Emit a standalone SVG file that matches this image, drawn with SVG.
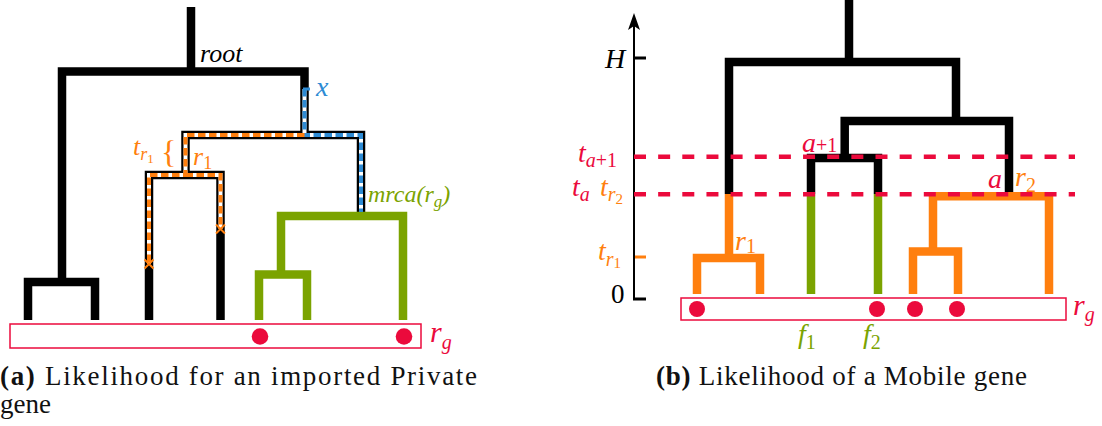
<svg xmlns="http://www.w3.org/2000/svg" width="1102" height="426" viewBox="0 0 1102 426">
<style>
.tk{fill:none;stroke:#000;stroke-width:8.5;stroke-linejoin:miter}
.tg{fill:none;stroke:#7BA300;stroke-width:8.5;stroke-linejoin:miter}
.to{fill:none;stroke:#FF7F0E;stroke-width:8.5;stroke-linejoin:miter}
.uw{fill:none;stroke:#fff;stroke-width:4}
.do{fill:none;stroke:#FF7F0E;stroke-width:4;stroke-dasharray:7.5 3.5}
.db{fill:none;stroke:#2E8BD4;stroke-width:4;stroke-dasharray:7.5 3.5}
.dr{fill:none;stroke:#EB0A3C;stroke-width:4.5;stroke-dasharray:12 12.15}
.box{fill:#fff;stroke:#EB0A3C;stroke-width:1.5}
.dot{fill:#EB0A3C}
</style>
<rect width="1102" height="426" fill="#fff"/>
<g id="panel-a">
  <g id="connectors-a">
    <path class="tk" d="M191,7 V71.5"/>
    <path class="tk" d="M62,282 V71.5 H304.5 V135"/>
    <path class="tk" d="M28,320 V282 H95 V320"/>
    <path class="tk" d="M185.5,175 V135 H361 V216"/>
    <path class="tk" d="M149,320 V175 H220.5 V320"/>
    <path class="tg" d="M281,274.5 V216 H403 V320"/>
    <path class="tg" d="M259,320 V274.5 H307 V320"/>
    <path class="uw" d="M304.5,89 V135 H361 V212"/>
    <path class="uw" d="M304.5,135 H185.5 V175 H149 V264 M185.5,175 H220.5 V229"/>
    <path class="db" d="M304.5,89 V135 H361 V212"/>
    <path d="M303,89 H310" stroke="#2E8BD4" stroke-width="3" fill="none"/>
    <path class="do" d="M304.5,135 H185.5 V175 H149 V264"/>
    <path class="do" d="M185.5,175 H220.5 V229"/>
    <path d="M144.5,259.5 L153.5,268.5 M153.5,259.5 L144.5,268.5 M216,224.5 L225,233.5 M225,224.5 L216,233.5" fill="none" stroke="#FF7F0E" stroke-width="2"/>
  </g>
  <g id="root-a"><text x="200" y="62" font-size="26" font-family="Liberation Serif, DejaVu Serif, serif" style="font-family:'Liberation Serif',serif" font-style="italic" fill="#000">root</text></g>
  <g id="x-a"><text x="316" y="96" font-size="28" font-family="Liberation Serif, DejaVu Serif, serif" style="font-family:'Liberation Serif',serif" font-style="italic" fill="#2E8BD4">x</text></g>
  <g id="tr1-a"><text x="133" y="155" font-size="26" font-family="Liberation Serif, DejaVu Serif, serif" style="font-family:'Liberation Serif',serif" font-style="italic" fill="#FF7F0E">t<tspan font-size="18" dy="5">r</tspan><tspan font-style="normal" font-size="13" dy="3">1</tspan></text>
    <text x="161" y="163" font-size="32" font-family="Liberation Serif, DejaVu Serif, serif" style="font-family:'Liberation Serif',serif" fill="#FF7F0E">{</text></g>
  <g id="r1-a"><text x="193" y="165" font-size="26" font-family="Liberation Serif, DejaVu Serif, serif" style="font-family:'Liberation Serif',serif" font-style="italic" fill="#FF7F0E">r<tspan font-style="normal" font-size="18" dy="4">1</tspan></text></g>
  <g id="mrca-a"><text x="368" y="202" font-size="24" font-family="Liberation Serif, DejaVu Serif, serif" style="font-family:'Liberation Serif',serif" font-style="italic" fill="#7BA300">mrca(r<tspan font-size="17" dy="5">g</tspan><tspan dy="-5">)</tspan></text></g>
  <g id="sample-a">
    <rect class="box" x="10" y="324" width="411" height="24"/>
    <circle class="dot" cx="260" cy="336.5" r="8.3"/>
    <circle class="dot" cx="404" cy="336.5" r="8.3"/>
    <text x="430" y="342" font-size="30" font-family="Liberation Serif, DejaVu Serif, serif" style="font-family:'Liberation Serif',serif" font-style="italic" fill="#EB0A3C">r<tspan font-size="20" dy="7">g</tspan></text>
  </g>
  <g id="caption-a">
    <text x="0" y="385" font-size="27" font-family="Liberation Serif, DejaVu Serif, serif" style="font-family:'Liberation Serif',serif" fill="#111" textLength="477" lengthAdjust="spacing"><tspan font-weight="bold">(a)</tspan> Likelihood for an imported Private</text>
    <text x="0" y="413" font-size="27" font-family="Liberation Serif, DejaVu Serif, serif" style="font-family:'Liberation Serif',serif" fill="#111">gene</text>
  </g>
</g>

<g id="panel-b">
  <g id="axis-b">
    <path d="M634,299 V24" stroke="#000" stroke-width="2" fill="none"/>
    <path d="M634,13 L640,30 L634,26 L628,30 Z" fill="#000"/>
    <path d="M633,58 H646 M633,299 H646" stroke="#000" stroke-width="3" fill="none"/>
    <path d="M635,257 H646" stroke="#FF7F0E" stroke-width="3" fill="none"/>
    <text x="605" y="67.5" font-size="28" font-family="Liberation Serif, DejaVu Serif, serif" style="font-family:'Liberation Serif',serif" font-style="italic" fill="#000">H</text>
    <text x="611" y="303" font-size="27" font-family="Liberation Serif, DejaVu Serif, serif" style="font-family:'Liberation Serif',serif" fill="#000">0</text>
    <text x="598" y="260" font-size="28" font-family="Liberation Serif, DejaVu Serif, serif" style="font-family:'Liberation Serif',serif" font-style="italic" fill="#FF7F0E">t<tspan font-size="20" dy="6">r</tspan><tspan font-style="normal" font-size="15" dy="2">1</tspan></text>
    <text x="578" y="162" font-size="28" font-family="Liberation Serif, DejaVu Serif, serif" style="font-family:'Liberation Serif',serif" font-style="italic" fill="#EB0A3C">t<tspan font-size="20" dy="5">a</tspan><tspan font-style="normal" font-size="20">+1</tspan></text>
    <text x="572" y="196" font-size="28" font-family="Liberation Serif, DejaVu Serif, serif" style="font-family:'Liberation Serif',serif" font-style="italic" fill="#EB0A3C">t<tspan font-size="20" dy="5">a</tspan></text>
    <text x="600" y="196" font-size="28" font-family="Liberation Serif, DejaVu Serif, serif" style="font-family:'Liberation Serif',serif" font-style="italic" fill="#FF7F0E">t<tspan font-size="20" dy="5">r</tspan><tspan font-style="normal" font-size="15" dy="3">2</tspan></text>
  </g>
  <g id="connectors-b">
    <path class="tk" d="M849,0 V62"/>
    <path class="tk" d="M729,194 V62 H956 V121"/>
    <path class="tk" d="M844.7,158 V121 H1009 V194"/>
    <path class="tk" d="M811,194 V158 H878 V194"/>
    <path class="tg" d="M811,194 V294 M878,194 V294"/>
    <path class="to" d="M729,194 V258"/>
    <path class="to" d="M697,294 V258 H760 V294"/>
    <path class="to" d="M933,251.5 V196.3 H1049 V294"/>
    <path class="to" d="M913,294 V251.5 H958 V294"/>
    <path class="dr" d="M634,156.7 H1075"/>
    <path class="dr" d="M634,194.3 H1075"/>
  </g>
  <g id="a1-b"><text x="802" y="152" font-size="28" font-family="Liberation Serif, DejaVu Serif, serif" style="font-family:'Liberation Serif',serif" font-style="italic" fill="#EB0A3C">a<tspan font-style="normal" font-size="20">+1</tspan></text></g>
  <g id="a-b"><text x="988" y="188" font-size="28" font-family="Liberation Serif, DejaVu Serif, serif" style="font-family:'Liberation Serif',serif" font-style="italic" fill="#EB0A3C">a</text></g>
  <g id="r2-b"><text x="1015" y="186" font-size="28" font-family="Liberation Serif, DejaVu Serif, serif" style="font-family:'Liberation Serif',serif" font-style="italic" fill="#FF7F0E">r<tspan font-style="normal" font-size="20" dy="6">2</tspan></text></g>
  <g id="r1-b"><text x="735" y="250" font-size="28" font-family="Liberation Serif, DejaVu Serif, serif" style="font-family:'Liberation Serif',serif" font-style="italic" fill="#FF7F0E">r<tspan font-style="normal" font-size="20" dy="3">1</tspan></text></g>
  <g id="sample-b">
    <rect class="box" x="681" y="298" width="385" height="22"/>
    <circle class="dot" cx="697" cy="309" r="8"/>
    <circle class="dot" cx="877" cy="309" r="8"/>
    <circle class="dot" cx="915" cy="309" r="8"/>
    <circle class="dot" cx="957" cy="309" r="8"/>
    <text x="1073" y="315" font-size="30" font-family="Liberation Serif, DejaVu Serif, serif" style="font-family:'Liberation Serif',serif" font-style="italic" fill="#EB0A3C">r<tspan font-size="20" dy="6">g</tspan></text>
  </g>
  <g id="f1-b"><text x="798" y="343" font-size="28" font-family="Liberation Serif, DejaVu Serif, serif" style="font-family:'Liberation Serif',serif" font-style="italic" fill="#7BA300">f<tspan font-style="normal" font-size="20" dy="6">1</tspan></text></g>
  <g id="f2-b"><text x="863" y="343" font-size="28" font-family="Liberation Serif, DejaVu Serif, serif" style="font-family:'Liberation Serif',serif" font-style="italic" fill="#7BA300">f<tspan font-style="normal" font-size="20" dy="6">2</tspan></text></g>
  <g id="caption-b">
    <text x="656" y="385" font-size="27" font-family="Liberation Serif, DejaVu Serif, serif" style="font-family:'Liberation Serif',serif" fill="#111" textLength="371" lengthAdjust="spacing"><tspan font-weight="bold">(b)</tspan> Likelihood of a Mobile gene</text>
  </g>
</g>
</svg>
